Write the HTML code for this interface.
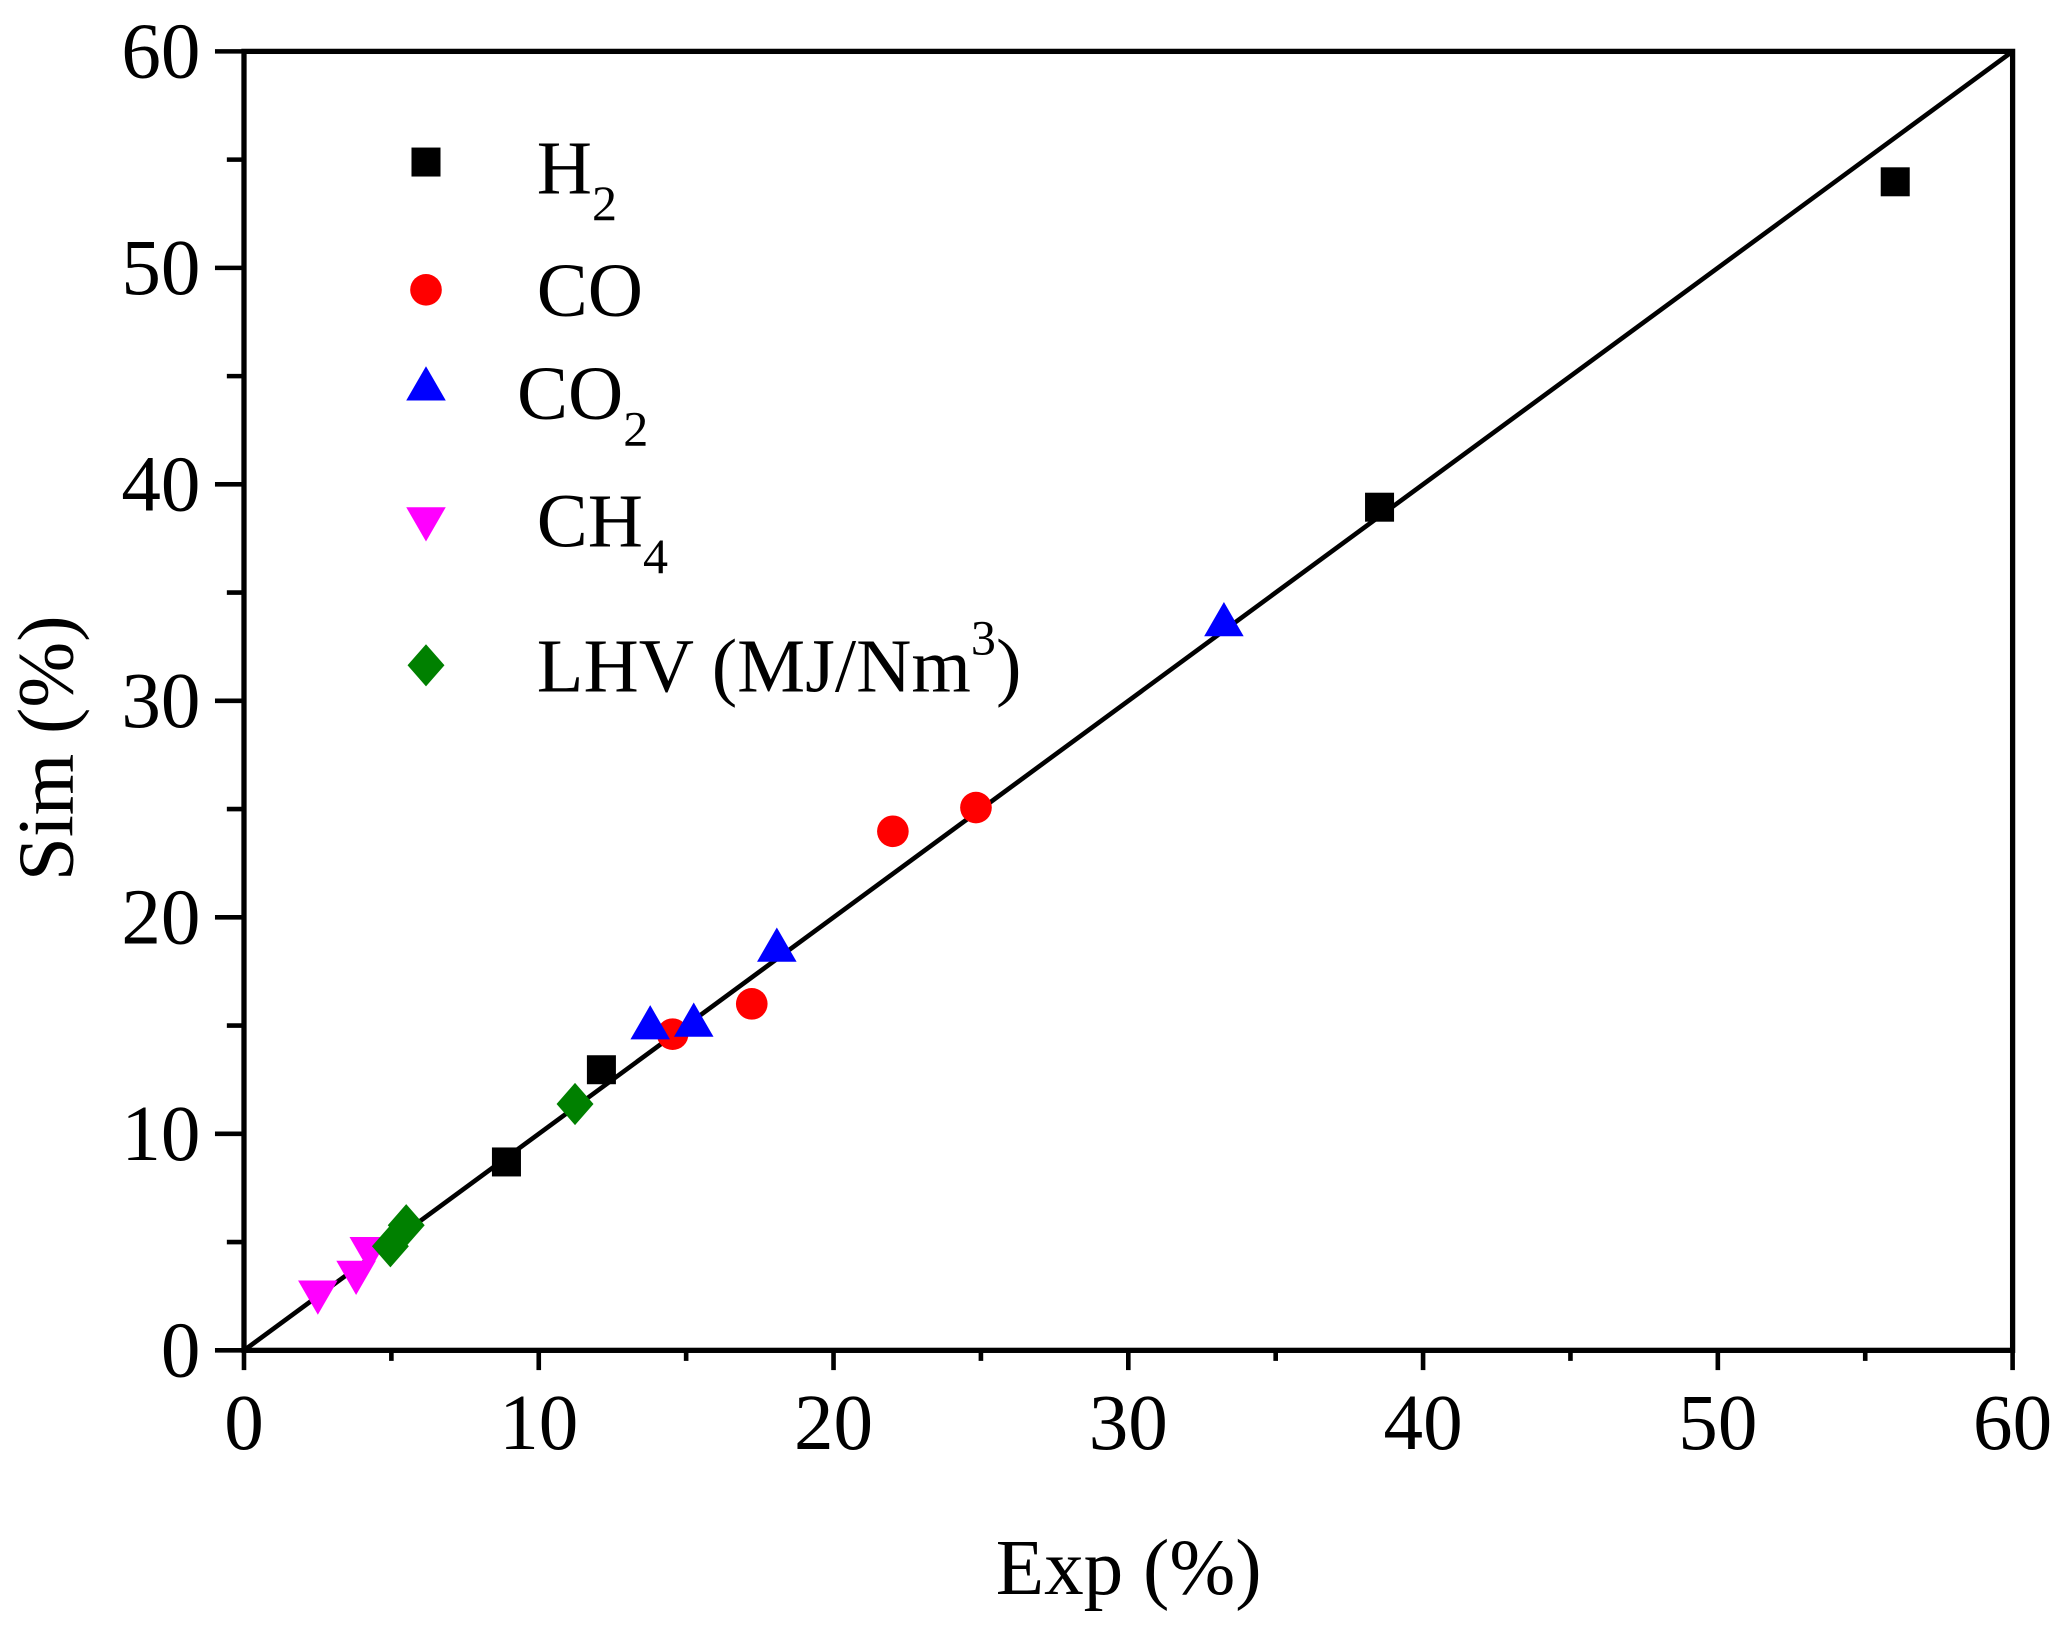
<!DOCTYPE html>
<html><head><style>html,body{margin:0;padding:0;background:#fff}svg{display:block}</style></head><body>
<svg width="2068" height="1627" viewBox="0 0 1568 1235" preserveAspectRatio="none" xmlns="http://www.w3.org/2000/svg" font-family="Liberation Serif, serif">
<defs>
<rect id="sq" x="-11" y="-11" width="22" height="22" fill="#000"/>
<circle id="ci" r="12" fill="#f00"/>
<polygon id="tu" points="0,-15 15,11 -15,11" fill="#00f"/>
<polygon id="td" points="0,15 15,-11 -15,-11" fill="#f0f"/>
<polygon id="di" points="0,-16 14,0 0,16 -14,0" fill="#008000"/>
</defs>
<g stroke="#000" stroke-width="4" fill="none">
<rect x="185" y="39" width="1341" height="986"/>
</g>
<g stroke="#000" stroke-width="3.5">
<line x1="185" y1="1025" x2="1526" y2="39"/>
</g>
<g stroke="#000" stroke-width="3.5" id="yt"></g>
<g font-size="60" fill="#000" id="lbl"></g>
<g id="pts"></g>
<text x="755" y="1210" font-size="60">Exp (%)</text>
<text transform="translate(55,568) rotate(-90)" font-size="60" text-anchor="middle">Sim (%)</text>
<use href="#sq" x="323" y="123"/>
<use href="#ci" x="323" y="220"/>
<use href="#tu" x="323" y="293"/>
<use href="#td" x="323" y="396"/>
<use href="#di" x="323" y="505"/>
<g font-size="58">
<text x="407" y="147">H<tspan font-size="38" dy="20">2</tspan></text>
<text x="407" y="240">CO</text>
<text x="392" y="318">CO<tspan font-size="38" dy="20">2</tspan></text>
<text x="407" y="415">CH<tspan font-size="38" dy="20">4</tspan></text>
<text x="407" y="525">LHV (MJ/Nm<tspan font-size="38" dy="-28">3</tspan><tspan dy="28">)</tspan></text>
</g>
<script>
var ns="http://www.w3.org/2000/svg";
var yt=document.getElementById('yt'),lb=document.getElementById('lbl');
function ln(x1,y1,x2,y2){var l=document.createElementNS(ns,'line');l.setAttribute('x1',x1);l.setAttribute('y1',y1);l.setAttribute('x2',x2);l.setAttribute('y2',y2);yt.appendChild(l);}
function tx(x,y,s,a){var t=document.createElementNS(ns,'text');t.setAttribute('x',x);t.setAttribute('y',y);t.setAttribute('text-anchor',a);t.textContent=s;lb.appendChild(t);}
for(var v=0;v<=60;v+=5){
 var y=1025-v*986/60, x=185+v*1341/60, maj=v%10==0;
 ln(maj?163:172,y,185,y); ln(x,1025,x,maj?1040:1033);
 if(maj){tx(152,y+20,v,'end');tx(x,1100,v,'middle');}
}
var pts=document.getElementById('pts');
function p(id,x,y){var u=document.createElementNS(ns,'use');u.setAttribute('href','#'+id);u.setAttribute('x',x);u.setAttribute('y',y);pts.appendChild(u);}
[[241,983],[270,968],[280,950]].forEach(function(a){p('td',a[0],a[1]);});
[[296,946],[308,930],[436,838]].forEach(function(a){p('di',a[0],a[1]);});
[[384,882],[456,812],[1046,385],[1437,138]].forEach(function(a){p('sq',a[0],a[1]);});
[[510,785],[570,762],[677,631],[740,613]].forEach(function(a){p('ci',a[0],a[1]);});
[[493,778],[526,776],[589,719],[928,472]].forEach(function(a){p('tu',a[0],a[1]);});
</script>
</svg>
</body></html>
